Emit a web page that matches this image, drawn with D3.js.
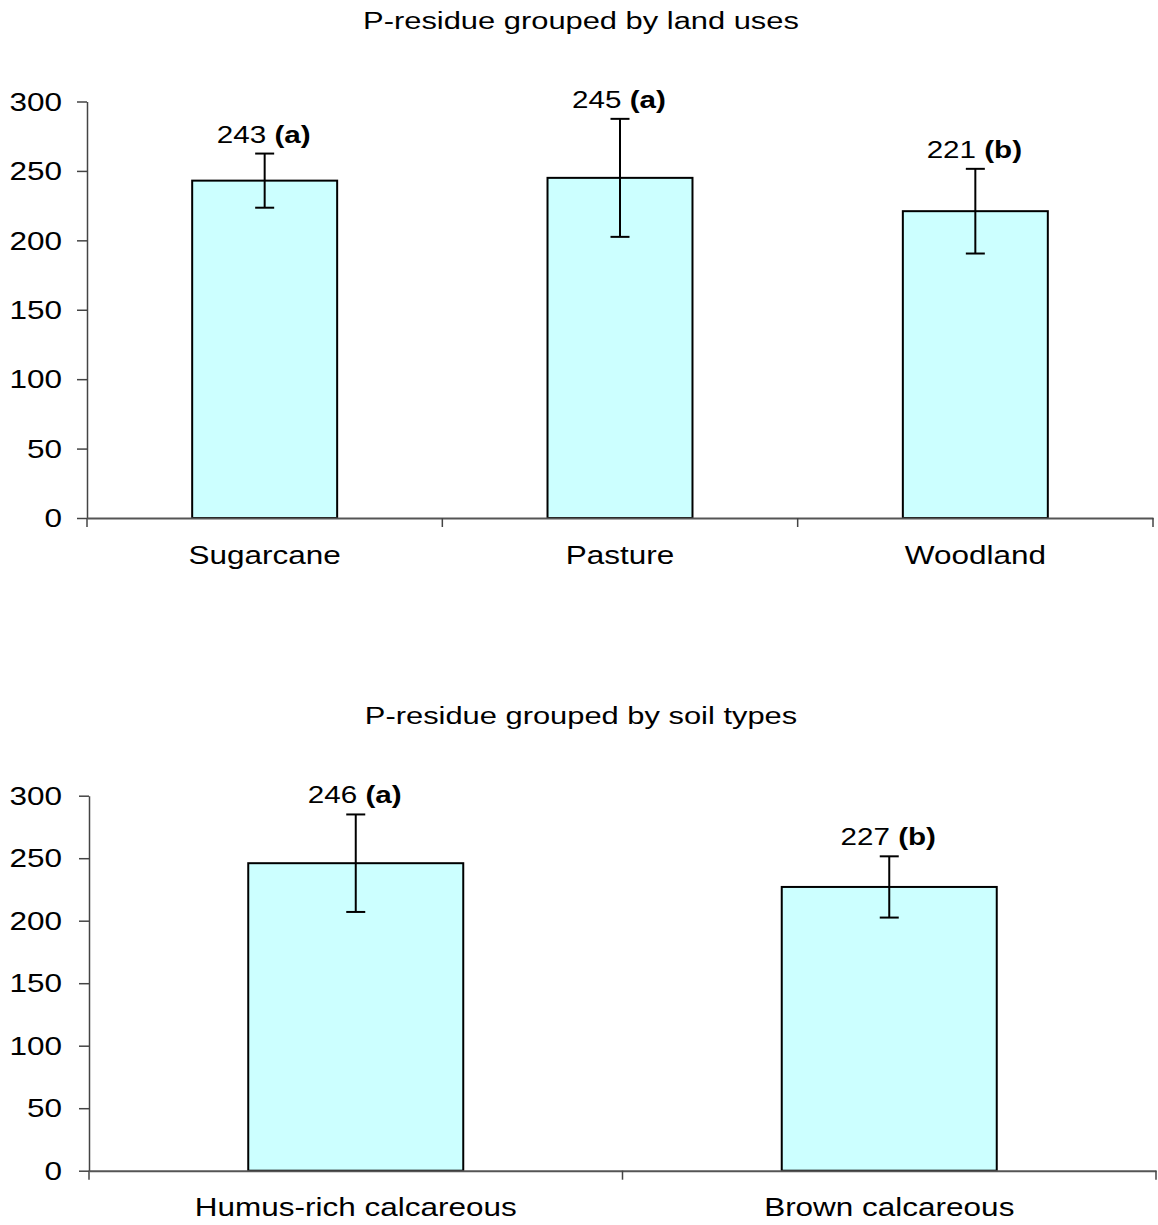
<!DOCTYPE html>
<html>
<head>
<meta charset="utf-8">
<script src="https://cdn.jsdelivr.net/npm/d3@7"></script>
<style>
  html, body { margin: 0; padding: 0; background: #fff; }
  svg text { font-family: "Liberation Sans", Arial, sans-serif; fill: #000; }
</style>
</head>
<body>
<svg id="chart" width="1158" height="1225"></svg>
<script>
// ---- data ----
const landTitle = "P-residue grouped by land uses";
const landCategories = ["Sugarcane", "Pasture", "Woodland"];
const landMeans = [243, 245, 221];
const landErrors = [19.5, 42.5, 30.5];
const landLetters = ["a", "a", "b"];

const soilTitle = "P-residue grouped by soil types";
const soilCategories = ["Humus-rich calcareous", "Brown calcareous"];
const soilMeans = [246, 227];
const soilErrors = [39, 24.5];
const soilLetters = ["a", "b"];

const yTickValues = [0, 50, 100, 150, 200, 250, 300];

// ---- drawing ----
const SX = 1.26;          // horizontal text stretch of the original
const FS = 25;            // font size
const svg = d3.select("#chart");

function drawPanel(cfg) {
  const g = svg.append("g");
  const x = d3.scaleBand().domain(cfg.categories).range([cfg.x0, cfg.x1]).padding(0);
  const y = d3.scaleLinear().domain([0, 300]).range([cfg.yBottom, cfg.yTop]);

  // title
  g.append("text")
    .attr("transform", `translate(${cfg.titleX},${cfg.titleY}) scale(${SX},1)`)
    .attr("text-anchor", "middle")
    .style("font-size", (FS - 0.5) + "px")
    .text(cfg.title);

  // bars
  const bw = x.bandwidth() * cfg.barFrac;
  const data = cfg.categories.map((c, i) => ({ c, v: cfg.means[i], e: cfg.errors[i], l: cfg.letters[i] }));
  g.selectAll("rect.bar").data(data).join("rect")
    .attr("class", "bar")
    .attr("x", d => x(d.c) + x.bandwidth() / 2 - bw / 2)
    .attr("y", d => y(d.v))
    .attr("width", bw)
    .attr("height", d => y(0) - y(d.v))
    .attr("fill", "#ccffff")
    .attr("stroke", "#000")
    .attr("stroke-width", 2);

  // error bars
  const cap = 9.5;
  const eg = g.selectAll("g.err").data(data).join("g").attr("class", "err")
    .attr("stroke", "#000").attr("stroke-width", 2);
  eg.append("line")
    .attr("x1", d => x(d.c) + x.bandwidth() / 2).attr("x2", d => x(d.c) + x.bandwidth() / 2)
    .attr("y1", d => y(d.v + d.e)).attr("y2", d => y(d.v - d.e));
  eg.append("line")
    .attr("x1", d => x(d.c) + x.bandwidth() / 2 - cap).attr("x2", d => x(d.c) + x.bandwidth() / 2 + cap)
    .attr("y1", d => y(d.v + d.e)).attr("y2", d => y(d.v + d.e));
  eg.append("line")
    .attr("x1", d => x(d.c) + x.bandwidth() / 2 - cap).attr("x2", d => x(d.c) + x.bandwidth() / 2 + cap)
    .attr("y1", d => y(d.v - d.e)).attr("y2", d => y(d.v - d.e));

  // value labels
  const lt = g.selectAll("text.val").data(data).join("text")
    .attr("class", "val")
    .attr("text-anchor", "middle")
    .attr("transform", d => `translate(${x(d.c) + x.bandwidth() / 2 - 1},${y(d.v + d.e) - 11}) scale(${SX},1)`)
    .style("font-size", "23.5px");
  lt.append("tspan").text(d => d.v + " ");
  lt.append("tspan").style("font-weight", "bold").text(d => "(" + d.l + ")");

  // y axis
  const ya = g.append("g")
    .attr("transform", `translate(${cfg.x0},0)`)
    .call(d3.axisLeft(y).tickValues(yTickValues).tickSize(10).tickSizeOuter(0).tickPadding(0));
  ya.select(".domain").attr("stroke", "#444").attr("stroke-width", 1.5);
  ya.selectAll(".tick line").attr("stroke", "#444").attr("stroke-width", 1.5);
  ya.selectAll(".tick text")
    .attr("x", -(cfg.x0 - 62) / SX)
    .attr("dy", "0.35em")
    .attr("transform", `scale(${SX},1)`)
    .style("font-size", FS + "px")
    .attr("fill", "#000");

  // x axis
  const xa = g.append("g")
    .attr("transform", `translate(0,${cfg.yBottom})`)
    .call(d3.axisBottom(x).tickSize(0).tickSizeOuter(0).tickPadding(0));
  xa.select(".domain").attr("stroke", "#555").attr("stroke-width", 2);
  xa.selectAll(".tick text")
    .attr("y", 0)
    .attr("dy", 0)
    .attr("transform", `translate(0,${cfg.labelDy}) scale(${SX},1)`)
    .style("font-size", FS + "px")
    .attr("fill", "#000");
  // category boundary ticks
  const bounds = cfg.categories.map(c => x(c)).concat([x.range()[1]]);
  g.selectAll("line.bt").data(bounds).join("line")
    .attr("class", "bt")
    .attr("x1", d => d).attr("x2", d => d)
    .attr("y1", cfg.yBottom).attr("y2", cfg.yBottom + 9)
    .attr("stroke", "#444").attr("stroke-width", 1.5);
}

drawPanel({
  title: landTitle, categories: landCategories, means: landMeans, errors: landErrors, letters: landLetters,
  x0: 87, x1: 1153, yTop: 101.5, yBottom: 518, titleX: 581, titleY: 29, labelDy: 46, barFrac: 0.408
});

drawPanel({
  title: soilTitle, categories: soilCategories, means: soilMeans, errors: soilErrors, letters: soilLetters,
  x0: 89, x1: 1156, yTop: 795.7, yBottom: 1170.7, titleX: 581, titleY: 724, labelDy: 45, barFrac: 0.403
});
</script>
</body>
</html>
